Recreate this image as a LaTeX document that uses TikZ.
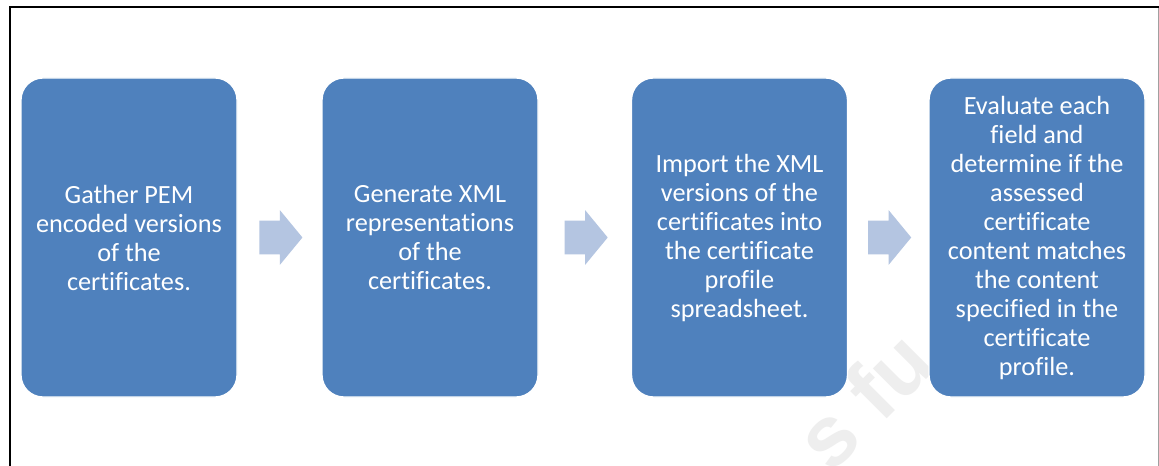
\documentclass[tikz,border=0pt]{standalone}
\usepackage{fontspec}
\setmainfont{Carlito}[Ligatures=NoCommon]
\newfontfamily\markfont{Liberation Sans}
\usetikzlibrary{shapes.arrows,calc}
\definecolor{stepblue}{HTML}{4F81BD}
\definecolor{arrowblue}{RGB}{180,197,225}
\definecolor{markgray}{RGB}{238,238,238}
\definecolor{edgegray}{RGB}{160,160,160}
\begin{document}
\begin{tikzpicture}[x=0.75pt,y=-0.75pt,
  stepbox/.style={fill=stepblue, draw=white, line width=1pt,
    rounded corners=16.5pt, minimum width=162pt, minimum height=239.25pt,
    inner sep=0pt, text=white, align=center,
    font=\fontsize{19.7pt}{21.75pt}\selectfont},
  flowarrow/.style={single arrow, fill=arrowblue, draw=none,
    minimum height=32.25pt, single arrow head extend=7.875pt,
    single arrow tip angle=101, inner xsep=0pt, inner ysep=12.375pt,
    xshift=-4.1pt},
  framerule/.style={line width=1.5pt, black},
  watermark/.style={text=markgray, anchor=base west, rotate=45,
    font=\markfont\bfseries\fontsize{64pt}{64pt}\selectfont}]
\useasboundingbox (0,0) rectangle (1159,466);
\fill[white] (0,0) rectangle (1159,466);
\begin{scope}
  \clip (0,0) rectangle (1159,466);
  % faint background stamp
  \node[watermark] (mark) at (828,478) {s fu};
  % frame
  \draw[edgegray, line width=0.75pt] (1158,8) -- (1158,470);
  \draw[framerule] (10,470) -- (10,7) -- (1162,7);
\end{scope}
% process steps
\node[stepbox] (s1) at (129,237.5) {Gather PEM\\encoded versions\\of the\\certificates.};
\node[stepbox] (s2) at (430,237.5) {Generate XML\\representations\\of the\\certificates.};
\node[stepbox] (s3) at (739.5,237.5) {Import the XML\\versions of the\\certificates into\\the certificate\\profile\\spreadsheet.};
\node[stepbox] (s4) at (1037,237.5) {Evaluate each\\field and\\determine if the\\assessed\\certificate\\content matches\\the content\\specified in the\\certificate\\profile.};
% arrows between steps
\node[flowarrow] (a1) at ($(s1.east)!0.5!(s2.west)$) {};
\node[flowarrow] (a2) at ($(s2.east)!0.5!(s3.west)$) {};
\node[flowarrow] (a3) at ($(s3.east)!0.5!(s4.west)$) {};
\end{tikzpicture}
\end{document}
